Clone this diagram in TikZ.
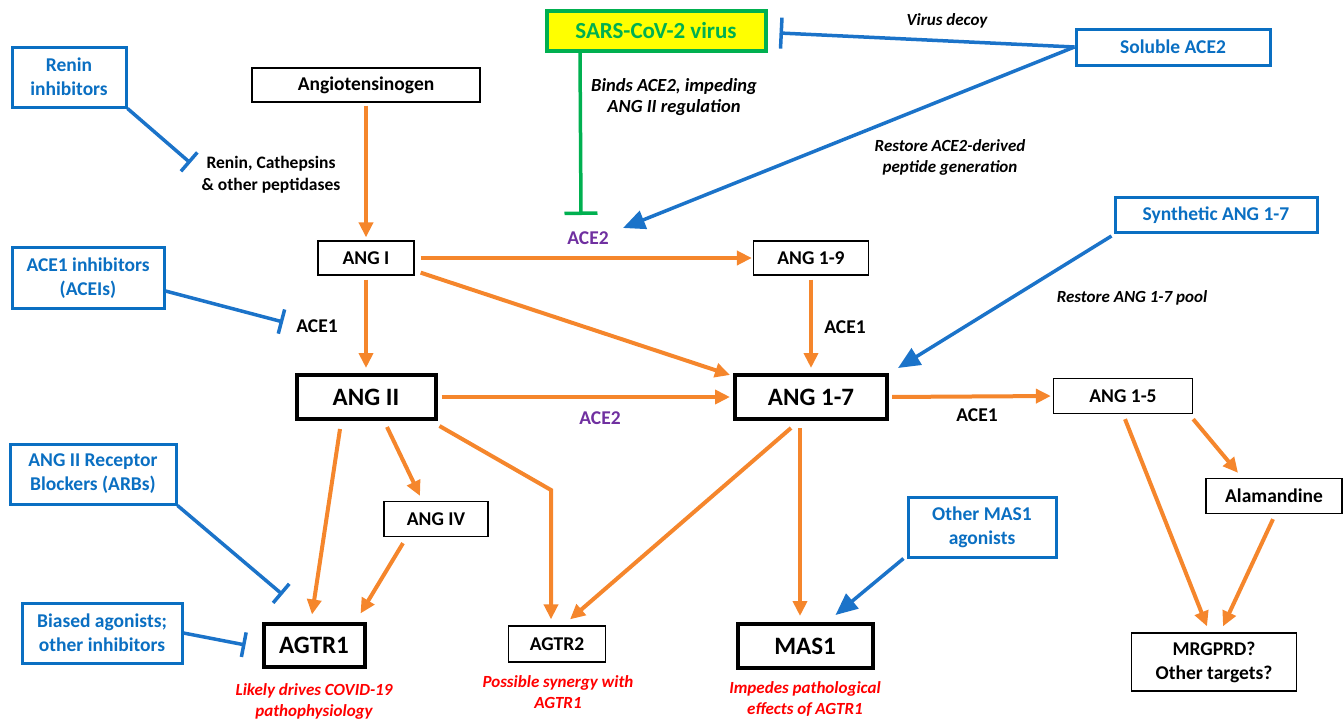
\documentclass[tikz,border=0pt]{standalone}
\usepackage{fontspec}
\setmainfont{Carlito}
\usetikzlibrary{arrows.meta,calc}
\definecolor{rasink}{HTML}{000000}
\definecolor{raspage}{HTML}{FFFFFF}
\definecolor{rasorange}{HTML}{F5862C}
\definecolor{rasblue}{HTML}{0A6FC2}
\definecolor{rasline}{HTML}{1B73C9}
\definecolor{rasgreen}{HTML}{00B050}
\definecolor{rasyellow}{HTML}{FFFF00}
\definecolor{raspurple}{HTML}{7030A0}
\definecolor{rasred}{HTML}{FF0000}
\tikzset{
  rasbox/.style={
    draw=rasink,
    line width=1.3pt,
    fill=raspage,
    align=center,
    inner sep=0pt,
    font=\fontsize{19.5}{24}\selectfont\bfseries,
    text=rasink
  },
  raskey/.style={
    rasbox,
    line width=4pt,
    font=\fontsize{25}{30}\selectfont\bfseries
  },
  rasdrug/.style={
    rasbox,
    draw=rasblue,
    text=rasblue,
    line width=3pt
  },
  rasvirus/.style={
    rasbox,
    draw=rasgreen,
    fill=rasyellow,
    text=rasgreen,
    line width=4pt,
    font=\fontsize{23}{28}\selectfont\bfseries
  },
  rasenzyme/.style={
    inner sep=0pt,
    align=center,
    font=\fontsize{19.5}{24}\selectfont\bfseries,
    text=rasink
  },
  rasnote/.style={
    inner sep=0pt,
    align=center,
    font=\fontsize{17}{21}\selectfont\bfseries\itshape,
    text=rasink
  },
  raseffect/.style={
    rasnote,
    text=rasred
  },
  rasflow/.style={
    -{Triangle[length=15pt,width=14pt]},
    line width=4pt,
    color=rasorange
  },
  rasblock/.style={
    -{Bar[width=25pt]},
    line width=3.5pt,
    color=rasline
  },
  rasboost/.style={
    -{Triangle[length=22pt,width=19pt]},
    line width=3.5pt,
    color=rasline
  }
}
\begin{document}
\begin{tikzpicture}[x=1pt,y=-1pt]
  \useasboundingbox (0,0) rectangle (1343,720);

  % main cascade
  \node[rasbox, minimum width=228, minimum height=34] (angio) at (366,85) {Angiotensinogen};
  \node[rasbox, minimum width=96, minimum height=34] (angI) at (366,258) {ANG I};
  \node[raskey, minimum width=139, minimum height=44] (angII) at (366,397) {ANG II};
  \node[rasbox, minimum width=115, minimum height=34] (ang19) at (811,258) {ANG 1-9};
  \node[raskey, minimum width=152, minimum height=44] (ang17) at (811,397) {ANG 1-7};
  \node[rasbox, minimum width=139, minimum height=35] (ang15) at (1123,396) {ANG 1-5};
  \node[rasbox, minimum width=104, minimum height=35] (angIV) at (436,519) {ANG IV};
  \node[rasbox, minimum width=136, minimum height=35] (alamandine) at (1274,496) {Alamandine};

  % receptors
  \node[raskey, minimum width=101, minimum height=43] (agtr1) at (314,645) {AGTR1};
  \node[rasbox, minimum width=97, minimum height=36] (agtr2) at (557,644) {AGTR2};
  \node[raskey, minimum width=135, minimum height=44] (mas1) at (805,646) {MAS1};
  \node[rasbox, minimum width=165, minimum height=58] (mrgprd) at (1214,662) {MRGPRD?\\Other targets?};

  % drugs and virus
  \node[rasdrug, minimum width=114, minimum height=60] (renininh) at (69,77) {Renin\\inhibitors};
  \node[rasdrug, minimum width=152, minimum height=61] (acei) at (88,278) {ACE1 inhibitors\\(ACEIs)};
  \node[rasdrug, minimum width=166, minimum height=60] (arb) at (93,474) {ANG II Receptor\\Blockers (ARBs)};
  \node[rasdrug, minimum width=160, minimum height=60] (biased) at (102,633) {Biased agonists;\\other inhibitors};
  \node[rasdrug, minimum width=148, minimum height=60] (othermas) at (982,527) {Other MAS1\\agonists};
  \node[rasdrug, minimum width=194, minimum height=36] (soluble) at (1173,47) {Soluble ACE2};
  \node[rasdrug, minimum width=202, minimum height=35] (synthetic) at (1216,215) {Synthetic ANG 1-7};
  \node[rasvirus, minimum width=219, minimum height=40] (sars) at (656,31) {SARS-CoV-2 virus};

  % enzymes
  \node[rasenzyme, font=\fontsize{17.5}{22}\selectfont\bfseries] (peptidases) at (271,175) {Renin, Cathepsins\\\& other peptidases};
  \node[rasenzyme] (ace1a) at (317,326) {ACE1};
  \node[rasenzyme, text=raspurple] (ace2a) at (588,238) {ACE2};
  \node[rasenzyme] (ace1b) at (845,327) {ACE1};
  \node[rasenzyme, text=raspurple] (ace2b) at (600,418) {ACE2};
  \node[rasenzyme] (ace1c) at (977,415) {ACE1};

  % notes
  \node[rasnote, font=\fontsize{18.5}{21}\selectfont\bfseries\itshape] (bindsnote) at (674,97) {Binds ACE2, impeding\\ANG II regulation};
  \node[rasnote] (decoynote) at (947,21) {Virus decoy};
  \node[rasnote] (restorenote) at (950,157) {Restore ACE2-derived\\peptide generation};
  \node[rasnote] (poolnote) at (1132,298) {Restore ANG 1-7 pool};
  \node[raseffect] (agtr1note) at (314,701) {Likely drives COVID-19\\pathophysiology};
  \node[raseffect] (agtr2note) at (558,692) {Possible synergy with\\AGTR1};
  \node[raseffect] (mas1note) at (805,699) {Impedes pathological\\effects of AGTR1};

  % orange flows
  \draw[rasflow, shorten <=3pt, shorten >=3pt] (angio.south) -- (angI.north);
  \draw[rasflow, shorten <=4pt, shorten >=5pt] (angI.south) -- (angII.north);
  \draw[rasflow, shorten <=6pt, shorten >=1pt] (angI.east) -- (ang19.west);
  \draw[rasflow] ($(angI.south east)+(6,-3)$) -- ($(ang17.north west)+(-3,2)$);
  \draw[rasflow, shorten <=4pt, shorten >=3pt] (angII.east) -- (ang17.west);
  \draw[rasflow, shorten <=4pt, shorten >=5pt] (ang19.south) -- (ang17.north);
  \draw[rasflow, shorten <=3pt, shorten >=2pt] (ang17.east) -- (ang15.west);
  \draw[rasflow] ($(angII.south)+(-26,8)$) -- ($(agtr1.north)+(-2,-7)$);
  \draw[rasflow] ($(angII.south)+(21,6)$) -- ($(angIV.north)+(-16,-5)$);
  \draw[rasflow] ($(angIV.south)+(-33,6)$) -- ($(agtr1.north east)+(-6,-8)$);
  \coordinate (agtrbend) at (551,490);
  \draw[rasflow] ($(angII.south east)+(2,5)$) -- (agtrbend) -- ($(agtr2.north)+(-6,-6)$);
  \draw[rasflow] ($(ang17.south)+(-20,7)$) -- ($(agtr2.north)+(13,-6)$);
  \draw[rasflow] ($(ang17.south)+(-11,7)$) -- ($(mas1.north)+(-5,-6)$);
  \draw[rasflow] ($(ang15.south)+(2,5)$) -- ($(mrgprd.north)+(-7,-6)$);
  \draw[rasflow] ($(ang15.south east)+(0,5)$) -- ($(alamandine.north)+(-36,-5)$);
  \draw[rasflow] ($(alamandine.south)+(-1,5)$) -- ($(mrgprd.north)+(9,-6)$);

  % blue inhibitions and supplies
  \draw[rasblock] (renininh.south east) -- ($(peptidases.west)+(-11,-12)$);
  \draw[rasblock] ($(acei.east)+(0,13)$) -- ($(ace1a.west)+(-13,-4)$);
  \draw[rasblock] (arb.south east) -- ($(agtr1.north west)+(21,-27)$);
  \draw[rasblock] (biased.east) -- ($(agtr1.west)+(-16,0)$);
  \draw[rasblock, -{Bar[width=31pt]}] (soluble.west) -- ($(sars.east)+(12,2)$);
  \draw[rasblock, color=rasgreen, -{Bar[width=33pt]}] ($(sars.south)+(-76,0)$) -- ($(ace2a.center)+(-7,-23)$);
  \draw[rasboost] (soluble.west) -- ($(ace2a.center)+(35,-10)$);
  \draw[rasboost] ($(synthetic.south west)+(-2,2)$) -- ($(ang17.north east)+(9,-5)$);
  \draw[rasboost] ($(othermas.south west)+(-3,0)$) -- ($(mas1.north east)+(-39,-7)$);
\end{tikzpicture}
\end{document}
